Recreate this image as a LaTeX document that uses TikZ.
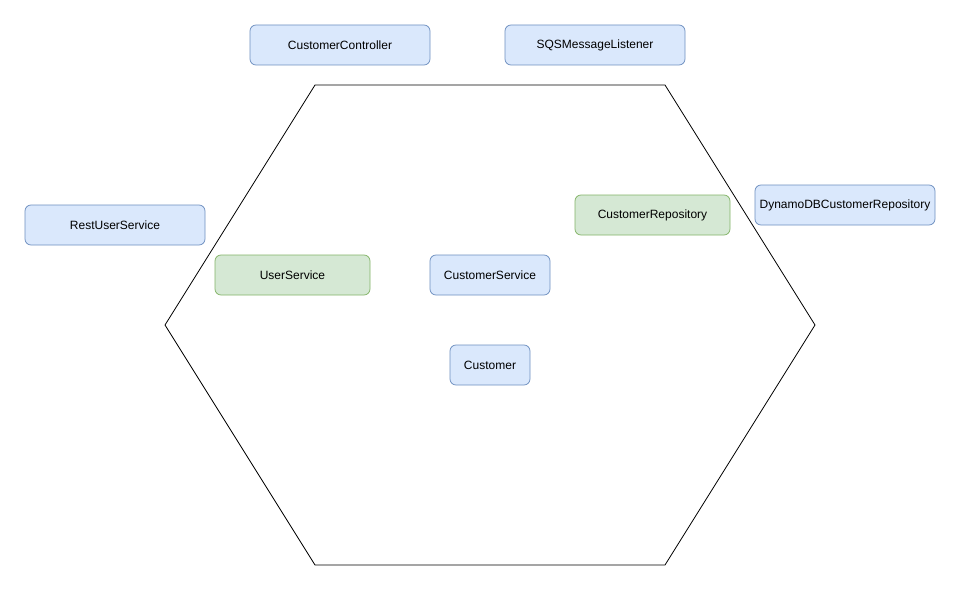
\documentclass[tikz,border=0pt]{standalone}
\usepackage{fontspec}
\setmainfont{Liberation Sans}
\definecolor{bfill}{HTML}{DAE8FC}
\definecolor{bdraw}{HTML}{6C8EBF}
\definecolor{gfill}{HTML}{D5E8D4}
\definecolor{gdraw}{HTML}{82B366}
\begin{document}
\begin{tikzpicture}[x=1pt,y=-1pt,
  box/.style={draw=bdraw,fill=bfill,rounded corners=6pt,line width=0.75pt,
    inner sep=0pt,font=\fontsize{12}{14}\selectfont},
  gbox/.style={box,draw=gdraw,fill=gfill}]
\useasboundingbox (0,0) rectangle (961,591);
\draw[line width=0.8pt] (315,85) -- (665,85) -- (815,325) -- (665,565) -- (315,565) -- (165,325) -- cycle;
\node[box,minimum width=180pt,minimum height=40pt] (cc) at (340,45) {CustomerController};
\node[box,minimum width=180pt,minimum height=40pt] (sqs) at (595,45) {SQSMessageListener};
\node[box,minimum width=180pt,minimum height=40pt] (rus) at (115,225) {RestUserService};
\node[gbox,minimum width=155pt,minimum height=40pt] (us) at (292.5,275) {UserService};
\node[box,minimum width=120pt,minimum height=40pt] (cs) at (490,275) {CustomerService};
\node[gbox,minimum width=155pt,minimum height=40pt] (cr) at (652.5,215) {CustomerRepository};
\node[box,minimum width=180pt,minimum height=40pt] (dyn) at (845,205) {DynamoDBCustomerRepository};
\node[box,minimum width=80pt,minimum height=40pt] (c) at (490,365) {Customer};
\end{tikzpicture}
\end{document}
